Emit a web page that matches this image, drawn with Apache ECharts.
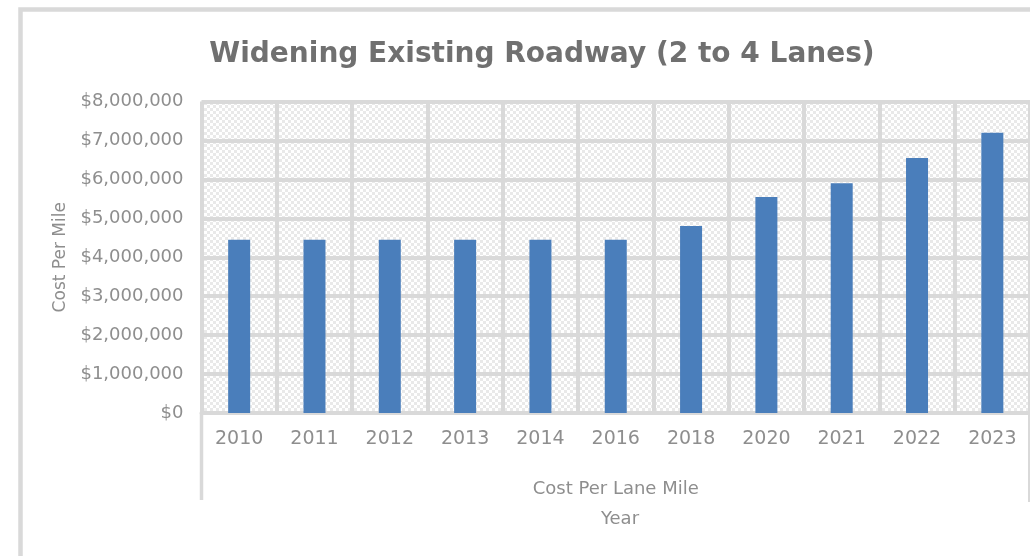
<!DOCTYPE html>
<html>
<head>
<meta charset="utf-8">
<script src="https://cdn.jsdelivr.net/npm/echarts@6/dist/echarts.min.js"></script>
<style>
  html, body { margin: 0; padding: 0; background: #ffffff; }
  #chart { width: 1030px; height: 556px; }
</style>
</head>
<body>
<div id="chart"></div>
<script>
// ---- data ----
const years = ['2010', '2011', '2012', '2013', '2014', '2016', '2018', '2020', '2021', '2022', '2023'];
const costPerLaneMile = [4450000, 4450000, 4450000, 4450000, 4450000, 4450000, 4800000, 5550000, 5900000, 6550000, 7200000];
const yTickLabels = ['$0', '$1,000,000', '$2,000,000', '$3,000,000', '$4,000,000', '$5,000,000', '$6,000,000', '$7,000,000', '$8,000,000'];
const chartTitle = 'Widening Existing Roadway (2 to 4 Lanes)';
const yAxisName = 'Cost Per Mile';
const xAxisName = 'Cost Per Lane Mile';
const bottomTitle = 'Year';

// checkered plot background
const pat = document.createElement('canvas');
pat.width = 6; pat.height = 6;
const pc = pat.getContext('2d');
pc.fillStyle = '#ffffff'; pc.fillRect(0, 0, 6, 6);
pc.fillStyle = '#e9e9e9'; pc.fillRect(0, 0, 3, 3); pc.fillRect(3, 3, 3, 3);

const FONT = 'DejaVu Sans';
const chart = echarts.init(document.getElementById('chart'), null, { renderer: 'canvas' });
chart.setOption({
  animation: false,
  backgroundColor: '#ffffff',
  title: [
    {
      text: chartTitle,
      left: 537, top: 36, textAlign: 'center',
      textStyle: { fontFamily: FONT, fontSize: 28, fontWeight: 'bold', color: '#707070' }
    },
    {
      text: bottomTitle,
      left: 615, top: 505, textAlign: 'center',
      textStyle: { fontFamily: FONT, fontSize: 18, fontWeight: 'normal', color: '#8e8e8e' }
    }
  ],
  graphic: [
    { type: 'rect', silent: true, shape: { x: 20.5, y: 9.5, width: 1040, height: 580 },
      style: { fill: 'none', stroke: '#d9d9d9', lineWidth: 4.5 } },
    { type: 'line', silent: true, shape: { x1: 201.5, y1: 413, x2: 201.5, y2: 500 },
      style: { stroke: '#d9d9d9', lineWidth: 3.5 } },
    { type: 'line', silent: true, shape: { x1: 1029, y1: 413, x2: 1029, y2: 502 },
      style: { stroke: '#d9d9d9', lineWidth: 2 } }
  ],
  grid: {
    left: 201.5, right: -1, top: 101.5, bottom: 143,
    show: true, borderWidth: 0,
    backgroundColor: { image: pat, repeat: 'repeat' }
  },
  xAxis: {
    type: 'category',
    data: years,
    name: xAxisName,
    nameLocation: 'middle',
    nameGap: 67,
    nameTextStyle: { fontFamily: FONT, fontSize: 18, color: '#8e8e8e' },
    axisLine: { show: true, lineStyle: { color: '#d9d9d9', width: 4 } },
    axisTick: { show: false },
    axisLabel: { fontFamily: FONT, fontSize: 19, color: '#8e8e8e', margin: 17 },
    splitLine: { show: true, lineStyle: { color: '#d9d9d9', width: 4 } }
  },
  yAxis: {
    type: 'value',
    min: 0, max: 8000000, interval: 1000000,
    name: yAxisName,
    nameLocation: 'middle',
    nameGap: 132,
    nameRotate: 90,
    nameTextStyle: { fontFamily: FONT, fontSize: 17, color: '#8e8e8e' },
    axisLine: { show: false },
    axisTick: { show: false },
    axisLabel: {
      fontFamily: FONT, fontSize: 18, color: '#8e8e8e', margin: 18,
      formatter: function (v) { return yTickLabels[Math.round(v / 1000000)]; }
    },
    splitLine: { show: true, lineStyle: { color: '#d9d9d9', width: 4 } }
  },
  series: [{
    type: 'bar',
    data: costPerLaneMile,
    barWidth: 22,
    itemStyle: { color: '#4a7ebb' }
  }]
});
</script>
</body>
</html>
